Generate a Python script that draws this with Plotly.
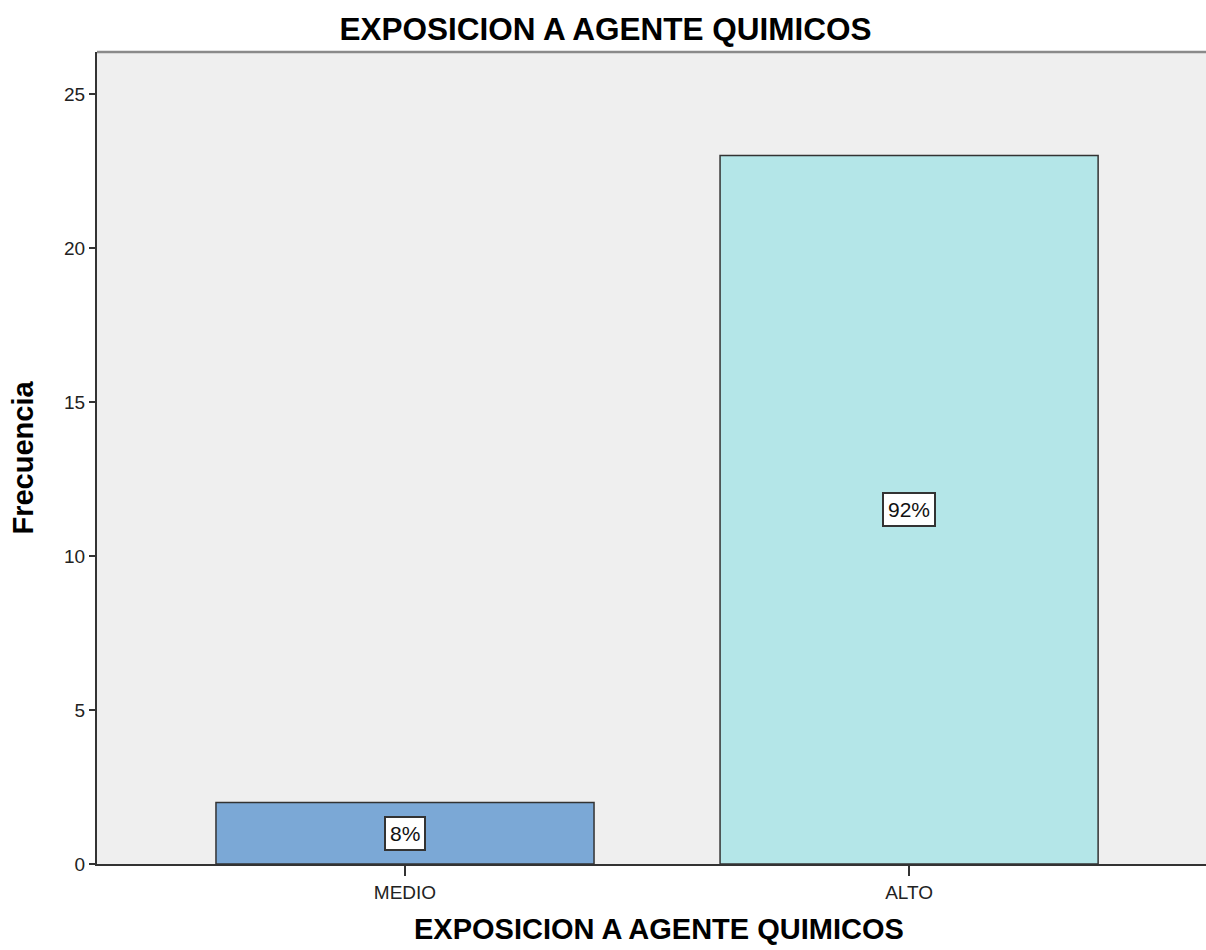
import plotly.graph_objects as go

categories = ["MEDIO", "ALTO"]
frequencies = [2, 23]
pct_labels = ["8%", "92%"]
bar_colors = ["#7BA8D6", "#B4E6E8"]
y_ticks = [0, 5, 10, 15, 20, 25]

fig = go.Figure()
fig.add_trace(go.Bar(
    x=categories, y=frequencies, width=0.75,
    marker=dict(color=bar_colors, line=dict(color="#333333", width=1.5)),
    hoverinfo="x+y",
))

for c, f, t in zip(categories, frequencies, pct_labels):
    fig.add_annotation(x=c, y=f / 2, text=t, showarrow=False,
                       font=dict(family="Liberation Sans, Arial", size=21, color="#111"),
                       bgcolor="white", bordercolor="#333333", borderwidth=2, borderpad=4)

# x-axis title as annotation for precise placement
fig.add_annotation(x=0.507, y=-65 / 812, xref="paper", yref="paper",
                   xanchor="center", yanchor="middle", showarrow=False,
                   text="<b>EXPOSICION A AGENTE QUIMICOS</b>",
                   font=dict(family="Liberation Sans, Arial", size=29, color="#000"))

fig.update_layout(
    width=1206, height=950,
    margin=dict(l=97, r=0, t=52, b=86),
    paper_bgcolor="white", plot_bgcolor="#EFEFEF",
    showlegend=False,
    font=dict(family="Liberation Sans, Arial", color="#222"),
    title=dict(text="<b>EXPOSICION A AGENTE QUIMICOS</b>", x=0.502, xanchor="center",
               y=1 - 29 / 950, yanchor="middle", yref="container",
               font=dict(size=31.5, color="#000")),
    xaxis=dict(range=[-0.611, 1.589], showgrid=False, zeroline=False,
               showline=True, linecolor="#333333", linewidth=2,
               ticks="outside", ticklen=10, tickwidth=1.5, tickcolor="#333333",
               tickfont=dict(size=19, color="#222")),
    yaxis=dict(range=[0, 26.36], tickvals=y_ticks, showgrid=False, zeroline=False,
               showline=True, linecolor="#333333", linewidth=2,
               ticks="outside", ticklen=6, tickwidth=1.5, tickcolor="#333333",
               tickfont=dict(size=19, color="#222"),
               title=dict(text="<b>Frecuencia</b>", standoff=22,
                          font=dict(size=29, color="#000"))),
)
fig.add_shape(type="line", xref="paper", yref="paper", x0=0, x1=1, y0=1, y1=1,
              line=dict(color="#8A8A8A", width=2.5))

fig.write_html("out.html", config={"displayModeBar": False},
               post_script="document.body.style.margin='0';document.body.style.overflow='hidden';")
